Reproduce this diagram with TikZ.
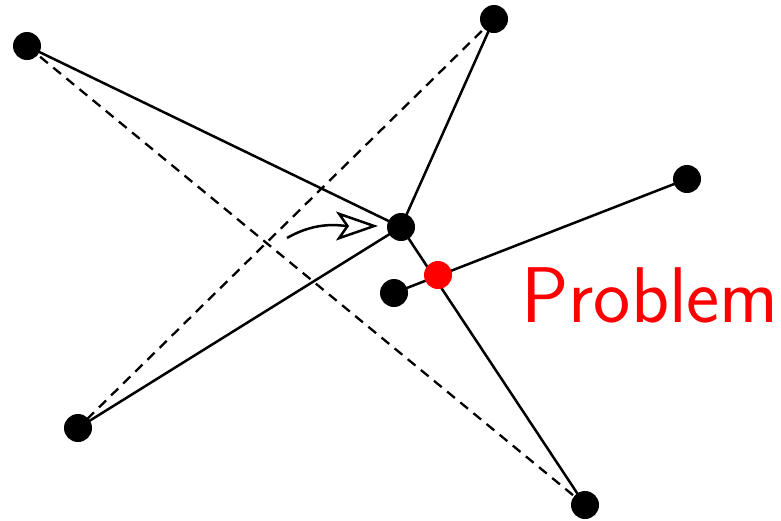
\documentclass[tikz,border=0pt]{standalone}
\usetikzlibrary{arrows.meta}
\begin{document}
\begin{tikzpicture}[x=1pt,y=-1pt,
  dot/.style={circle,fill=black,inner sep=0pt,minimum size=28pt},
  reddot/.style={circle,fill=red,inner sep=0pt,minimum size=28pt},
  edge/.style={line width=2.5pt},
  dashedge/.style={line width=2.3pt,dash pattern=on 10pt off 7pt}]
\useasboundingbox (0,0) rectangle (781,520);
\coordinate (A) at (27,46);
\coordinate (B) at (494,19);
\coordinate (C) at (401,227);
\coordinate (D) at (687,179);
\coordinate (E) at (394,293);
\coordinate (R) at (438,275);
\coordinate (F) at (78,428);
\coordinate (G) at (585,505);
\coordinate (s) at (287,238);
\coordinate (t) at (378,226);
\draw[dashedge] (A) -- (G);
\draw[dashedge] (B) -- (F);
\draw[edge] (A) -- (C);
\draw[edge] (B) -- (C);
\draw[edge] (C) -- (F);
\draw[edge] (C) -- (G);
\draw[edge] (E) -- (D);
\draw[edge,-{Stealth[open,length=42pt,width=29pt,inset=10pt]}] (s) to[out=30,in=180] (t);
\node[dot] (nA) at (A) {};
\node[dot] (nB) at (B) {};
\node[dot] (nC) at (C) {};
\node[dot] (nD) at (D) {};
\node[dot] (nE) at (E) {};
\node[dot] (nF) at (F) {};
\node[dot] (nG) at (G) {};
\node[reddot] (nR) at (R) {};
\node[text=red,font=\sffamily\fontsize{79}{95}\selectfont,anchor=base west,inner sep=0pt] (lbl) at (521,322) {Problem};
\end{tikzpicture}
\end{document}
